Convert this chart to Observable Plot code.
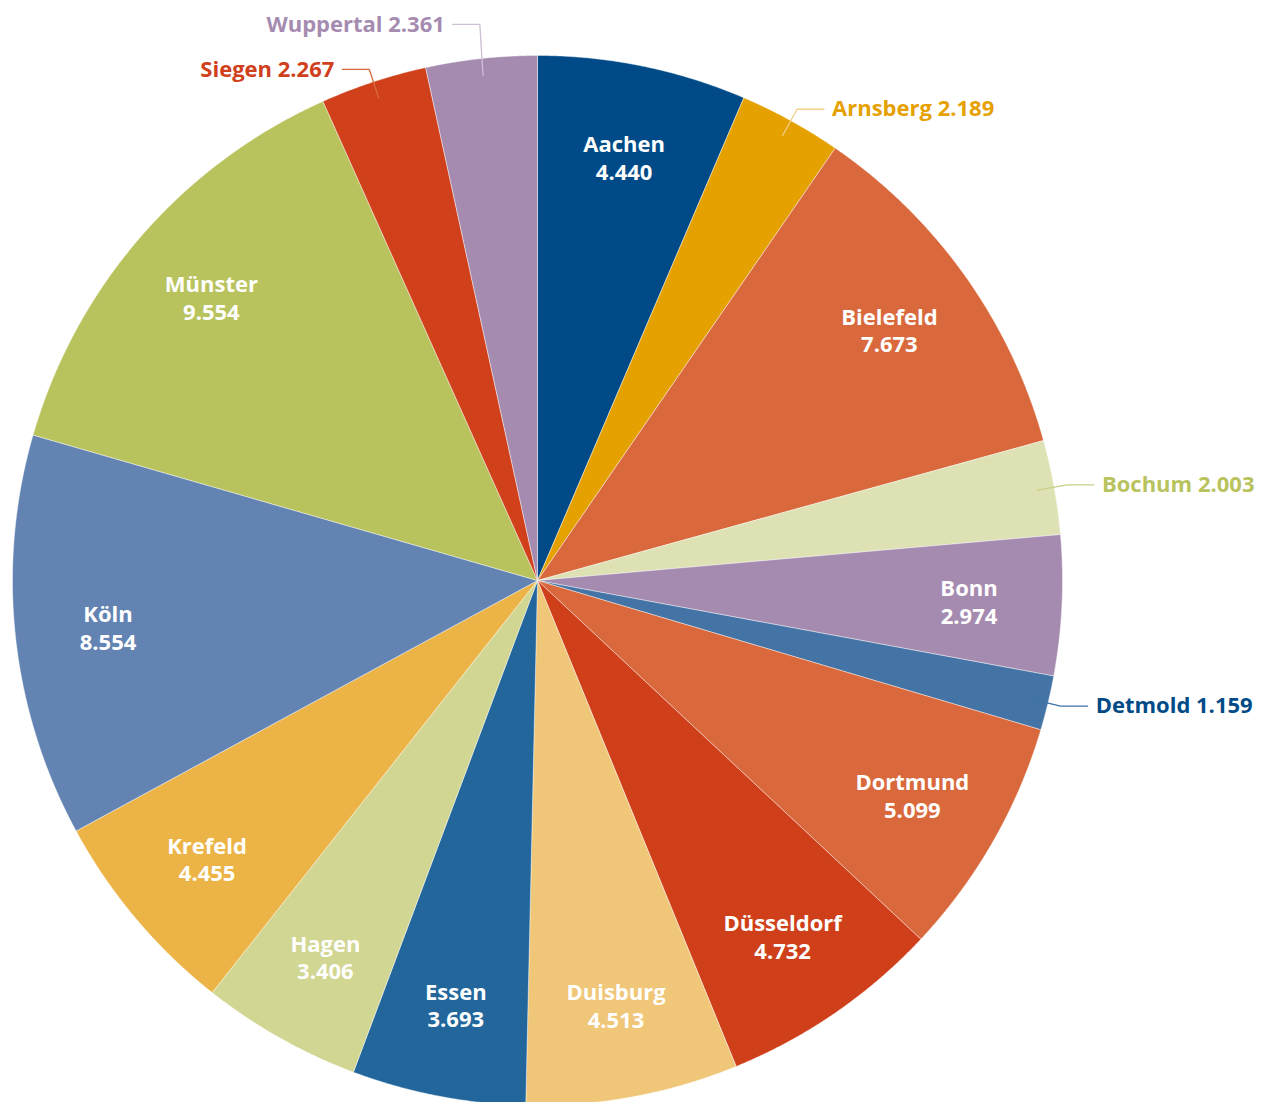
<!DOCTYPE html>
<html><head><meta charset="utf-8">
<script src="https://cdn.jsdelivr.net/npm/d3@7"></script>
<script src="https://cdn.jsdelivr.net/npm/@observablehq/plot@0.6"></script>
<style>body{margin:0;background:#fff}#chart svg{display:block}</style>
</head><body><div id="chart"></div>
<script>
const names = ["Aachen","Arnsberg","Bielefeld","Bochum","Bonn","Detmold","Dortmund","Düsseldorf","Duisburg","Essen","Hagen","Krefeld","Köln","Münster","Siegen","Wuppertal"];
const values = [4440,2189,7673,2003,2974,1159,5099,4732,4513,3693,3406,4455,8554,9554,2267,2361];
const colors = ["#004b87","#e5a100","#d9693c","#dde1b4","#a68bb1","#4474a5","#d9693c","#cf3f1a","#f0c678","#22669c","#d1d692","#ecb446","#6384b3","#b9c35e","#d0401b","#a68bb1"];
const outsideNames = ["Arnsberg","Bochum","Detmold","Siegen","Wuppertal"];
const outsideText = ["#e5a100","#b9c35e","#004b87","#d0401b","#a68bb1"];
const outsideLine = ["#f3cf85","#c9cf86","#3f73a8","#d9693c","#cdbfd5"];

const R = 525, rLabel = 432, rIn = 508, rElbow = 538, seg = 27, gap = 8, minGap = 45;
const fmt = d3.formatLocale({decimal: ",", thousands: ".", grouping: [3], currency: ["", "€"]}).format(",");
const arcs = d3.pie().sort(null).value(d => d)(values);
const pt = (a, r) => [r * Math.sin(a), -r * Math.cos(a)];

const slicePts = [];
arcs.forEach((a, i) => {
  const n = Math.ceil((a.endAngle - a.startAngle) / 0.004) + 1;
  slicePts.push({name: names[i], color: colors[i], x: 0, y: 0});
  for (let k = 0; k <= n; k++) {
    const t = a.startAngle + (a.endAngle - a.startAngle) * k / n;
    const [x, y] = pt(t, R);
    slicePts.push({name: names[i], color: colors[i], x, y});
  }
  slicePts.push({name: names[i], color: colors[i], x: 0, y: 0});
});

const inner = [], callouts = [];
arcs.forEach((a, i) => {
  const mid = (a.startAngle + a.endAngle) / 2;
  const j = outsideNames.indexOf(names[i]);
  if (j < 0) {
    const [x, y] = pt(mid, rLabel);
    inner.push({x, y, text: names[i] + "\n" + fmt(values[i])});
  } else {
    const side = Math.sin(mid) >= 0 ? 1 : -1;
    const [x0, y0] = pt(mid, rIn);
    const [x1, y1] = pt(mid, rElbow);
    callouts.push({name: names[i], side, x0, y0, x1, y1, j, i});
  }
});
// simple collision avoidance: push labels apart vertically on each side
[-1, 1].forEach(side => {
  const list = callouts.filter(c => c.side === side).sort((a, b) => b.y1 - a.y1);
  for (let k = 1; k < list.length; k++) {
    if (list[k - 1].y1 - list[k].y1 < minGap) list[k].y1 = list[k - 1].y1 - minGap;
  }
});
const leaders = [], outer = [];
callouts.forEach(c => {
  const x2 = c.x1 + c.side * seg;
  [[c.x0, c.y0], [c.x1, c.y1], [x2, c.y1]].forEach(([x, y]) => leaders.push({name: c.name, color: outsideLine[c.j], x, y}));
  outer.push({x: x2 + c.side * gap, y: c.y1, text: c.name + " " + fmt(values[c.i]), color: outsideText[c.j], anchor: c.side > 0 ? "start" : "end"});
});

const font = {fontSize: 22, fontWeight: 700};
const chart = Plot.plot({
  width: 1277, height: 1102, margin: 0,
  x: {domain: [-537, 740], range: [0, 1277], axis: null},
  y: {domain: [-580, 522], range: [0, 1102], axis: null},
  color: {type: "identity"},
  style: {fontFamily: "'Open Sans', sans-serif", background: "#fff"},
  marks: [
    Plot.line(slicePts, {x: "x", y: "y", z: "name", fill: "color", stroke: "#fff", strokeWidth: 0.6, strokeOpacity: 0.7, curve: "linear"}),
    Plot.line(leaders, {x: "x", y: "y", z: "name", stroke: "color", strokeWidth: 1.3}),
    Plot.text(inner, {x: "x", y: "y", text: "text", fill: "white", lineHeight: 1.25, ...font}),
    Plot.text(outer.filter(d => d.anchor === "start"), {x: "x", y: "y", text: "text", fill: "color", textAnchor: "start", ...font}),
    Plot.text(outer.filter(d => d.anchor === "end"), {x: "x", y: "y", text: "text", fill: "color", textAnchor: "end", ...font})
  ]
});
document.getElementById("chart").appendChild(chart);
</script></body></html>
